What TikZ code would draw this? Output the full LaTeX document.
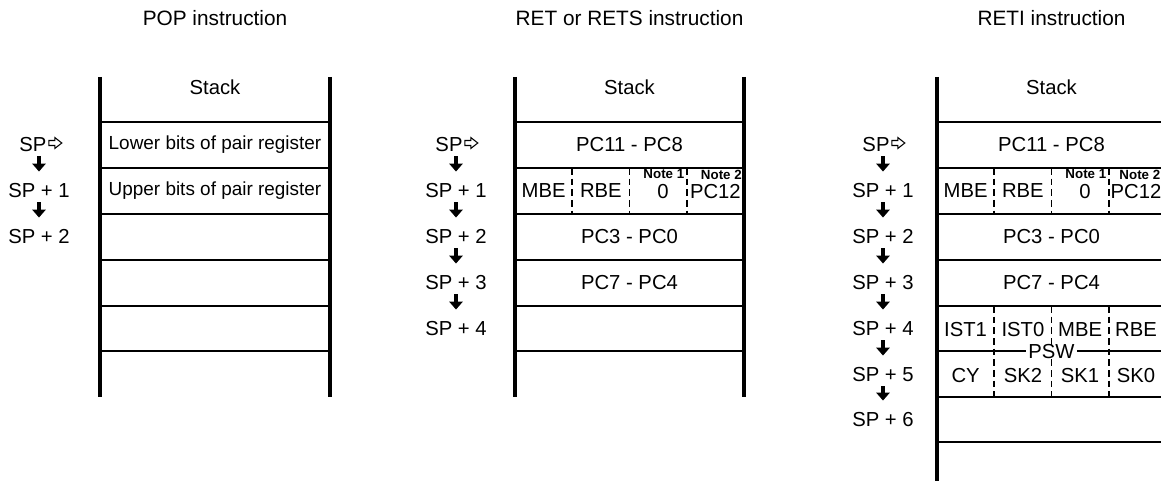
\documentclass[tikz,border=0pt]{standalone}
\usepackage{fontspec}
\setmainfont{Liberation Sans}
\usepackage{tikz}
\usetikzlibrary{arrows.meta,calc}
\usetikzlibrary{positioning}
\tikzstyle{wall}=[line width=2.3pt]
\tikzstyle{slot}=[line width=1.3pt]
\tikzstyle{divider}=[line width=1.2pt, dash pattern=on 5pt off 3pt]
\tikzstyle{txt}=[inner sep=0pt, anchor=center, font=\fontsize{15.2}{18}\selectfont]
\tikzstyle{pairtxt}=[txt, font=\fontsize{14.2}{17}\selectfont]
\tikzstyle{title}=[txt, font=\fontsize{15.6}{18}\selectfont]
\tikzstyle{note}=[inner sep=0pt, anchor=north east, font=\fontsize{10}{11}\selectfont\bfseries]
\tikzstyle{pswlabel}=[txt, fill=white, inner xsep=1.5pt]
\tikzstyle{push}=[-{Triangle[width=10pt,length=6pt]}, line width=3.6pt, shorten <=3pt, shorten >=9pt]
\tikzstyle{hollow}=[line width=0.8pt, line join=miter]
\newcommand{\sparrow}[1]{\draw[hollow] ($(#1.east)+(2,-4.5)$) -- ++(6,0) -- ++(0,-3) -- ++(7,5.5) -- ++(-7,5.5) -- ++(0,-3) -- ++(-6,0) -- cycle;}

\begin{document}
\begin{tikzpicture}[x=0.75pt, y=-0.75pt]
		\useasboundingbox (0,0) rectangle (1161,481);
		\clip (0,0) rectangle (1161,481);

		% POP instruction
		\node[title] (popT) at (215,18) {POP instruction};
		\draw[wall] (100,77) -- (100,397) (330,77) -- (330,397);
		\draw[slot] (100,122) -- (330,122) (100,168) -- (330,168) (100,214) -- (330,214)
			(100,260) -- (330,260) (100,306) -- (330,306) (100,351) -- (330,351);
		\node[txt] (popS) at (215,87) {Stack};
		\node[pairtxt] (popL) at (215,145) {Lower bits of pair register};
		\node[pairtxt] (popU) at (215,191) {Upper bits of pair register};

		\node[txt] (popSP0) at (33,145) {SP};
		\sparrow{popSP0}
		\node[txt] (popSP1) at (39,191) {SP + 1};
		\node[txt] (popSP2) at (39,237) {SP + 2};
		\draw[push] (popSP1.north |- popSP0.south) -- (popSP1.north);
		\draw[push] (popSP1.south) -- (popSP2.north);

		% RET or RETS instruction
		\node[title] (retT) at (629.5,18) {RET or RETS instruction};
		\draw[wall] (515,77) -- (515,397) (744,77) -- (744,397);
		\draw[slot] (515,122) -- (744,122) (515,168) -- (744,168) (515,214) -- (744,214)
			(515,260) -- (744,260) (515,306) -- (744,306) (515,351) -- (744,351);
		\draw[divider] (572.25,168) -- (572.25,214) (629.5,168) -- (629.5,214) (686.75,168) -- (686.75,214);
		\node[txt] (retS) at (629.5,87) {Stack};
		\node[txt] (retA) at (629.5,145) {PC11 - PC8};
		\node[txt] (retB1) at (543.6,191) {MBE};
		\node[txt] (retB2) at (600.9,191) {RBE};
		\node[txt] (retB3) at (663,192) {0};
		\node[txt] (retB4) at (715.4,192) {PC12};
		\node[note] (retN1) at (684.5,169.5) {Note 1};
		\node[note] (retN2) at (742,169.5) {Note 2};
		\node[txt] (retC) at (629.5,237) {PC3 - PC0};
		\node[txt] (retD) at (629.5,283) {PC7 - PC4};

		\node[txt] (retSP0) at (449,145) {SP};
		\sparrow{retSP0}
		\node[txt] (retSP1) at (456,191) {SP + 1};
		\node[txt] (retSP2) at (456,237) {SP + 2};
		\node[txt] (retSP3) at (456,283) {SP + 3};
		\node[txt] (retSP4) at (456,329) {SP + 4};
		\draw[push] (retSP1.north |- retSP0.south) -- (retSP1.north);
		\draw[push] (retSP1.south) -- (retSP2.north);
		\draw[push] (retSP2.south) -- (retSP3.north);
		\draw[push] (retSP3.south) -- (retSP4.north);

		% RETI instruction
		\node[title] (retiT) at (1051.5,18) {RETI instruction};
		\draw[wall] (937,77) -- (937,490) (1166,77) -- (1166,490);
		\draw[slot] (937,122) -- (1166,122) (937,168) -- (1166,168) (937,214) -- (1166,214)
			(937,260) -- (1166,260) (937,306) -- (1166,306) (937,351) -- (1166,351)
			(937,397) -- (1166,397) (937,442) -- (1166,442);
		\draw[divider] (994.25,168) -- (994.25,214) (1051.5,168) -- (1051.5,214) (1108.75,168) -- (1108.75,214);
		\draw[divider] (994.25,306) -- (994.25,397) (1051.5,306) -- (1051.5,397) (1108.75,306) -- (1108.75,397);
		\node[txt] (retiS) at (1051.5,87) {Stack};
		\node[txt] (retiA) at (1051.5,145) {PC11 - PC8};
		\node[txt] (retiB1) at (965.6,191) {MBE};
		\node[txt] (retiB2) at (1022.9,191) {RBE};
		\node[txt] (retiB3) at (1085,192) {0};
		\node[txt] (retiB4) at (1136,192) {PC12};
		\node[note] (retiN1) at (1106.5,169.5) {Note 1};
		\node[note] (retiN2) at (1160.5,169.5) {Note 2};
		\node[txt] (retiC) at (1051.5,237) {PC3 - PC0};
		\node[txt] (retiD) at (1051.5,283) {PC7 - PC4};
		\node[txt] (retiE1) at (965.6,330) {IST1};
		\node[txt] (retiE2) at (1022.9,330) {IST0};
		\node[txt] (retiE3) at (1080.1,330) {MBE};
		\node[txt] (retiE4) at (1136,330) {RBE};
		\node[txt] (retiF1) at (965.6,376) {CY};
		\node[txt] (retiF2) at (1022.9,376) {SK2};
		\node[txt] (retiF3) at (1080.1,376) {SK1};
		\node[txt] (retiF4) at (1136,376) {SK0};
		\node[pswlabel] (retiPSW) at (1051.5,352) {PSW};

		\node[txt] (retiSP0) at (876,145) {SP};
		\sparrow{retiSP0}
		\node[txt] (retiSP1) at (883,191) {SP + 1};
		\node[txt] (retiSP2) at (883,237) {SP + 2};
		\node[txt] (retiSP3) at (883,283) {SP + 3};
		\node[txt] (retiSP4) at (883,329) {SP + 4};
		\node[txt] (retiSP5) at (883,375) {SP + 5};
		\node[txt] (retiSP6) at (883,420) {SP + 6};
		\draw[push] (retiSP1.north |- retiSP0.south) -- (retiSP1.north);
		\draw[push] (retiSP1.south) -- (retiSP2.north);
		\draw[push] (retiSP2.south) -- (retiSP3.north);
		\draw[push] (retiSP3.south) -- (retiSP4.north);
		\draw[push] (retiSP4.south) -- (retiSP5.north);
		\draw[push] (retiSP5.south) -- (retiSP6.north);
	\end{tikzpicture}
\end{document}
